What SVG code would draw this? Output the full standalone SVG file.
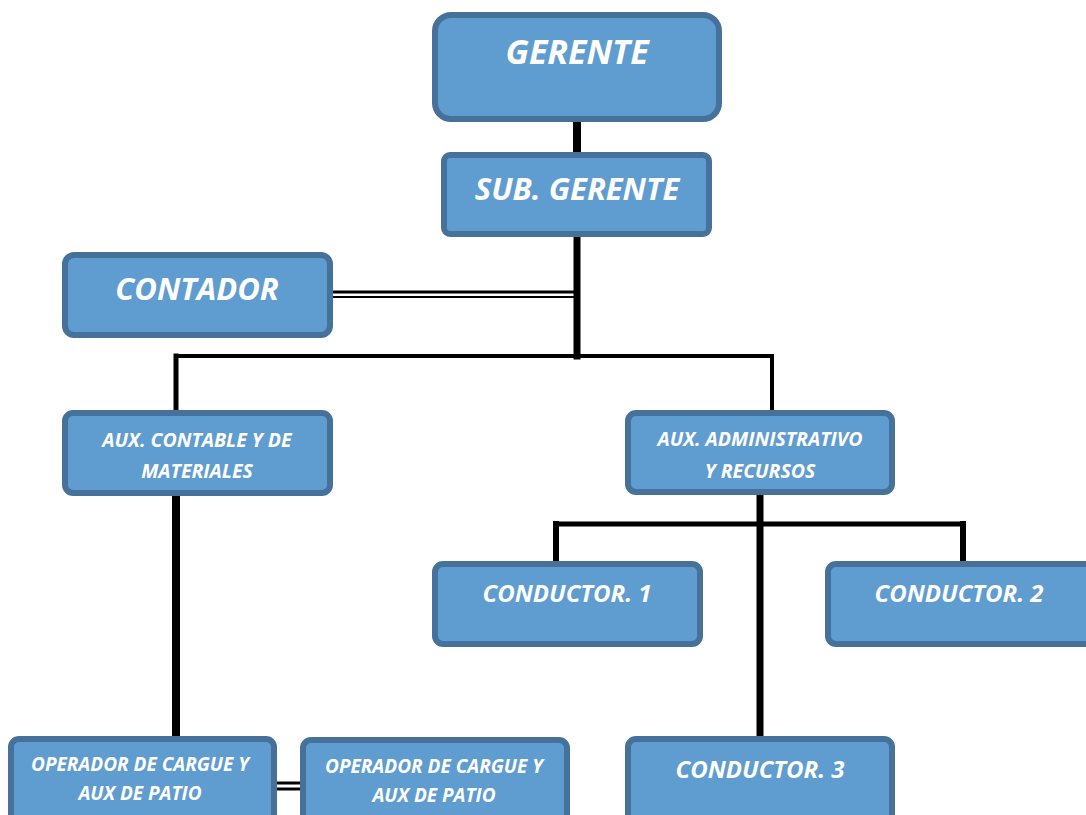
<svg xmlns="http://www.w3.org/2000/svg" width="1086" height="815" viewBox="0 0 1086 815">
<style>
.box{fill:#5f9cd0;stroke:#46719b;stroke-width:6}
.t{fill:#ffffff;font-family:"Open Sans","Noto Sans",sans-serif;font-weight:bold;font-style:italic;text-anchor:middle}
.big{font-size:34px}
.mid{font-size:31px}
.sm{font-size:19.5px}
.cd{font-size:24px}
.op{font-size:19px}
.ln{stroke:#000;fill:none;stroke-linecap:square}
</style>
<rect width="1086" height="815" fill="#ffffff"/>
<g id="connectors">
<line class="ln" x1="577" y1="122" x2="577" y2="152" stroke-width="8"/>
<line class="ln" x1="577" y1="237" x2="577" y2="356" stroke-width="7"/>
<line class="ln" x1="332" y1="292" x2="577" y2="292" stroke-width="3"/>
<line class="ln" x1="332" y1="297" x2="577" y2="297" stroke-width="2"/>
<line class="ln" x1="176" y1="356" x2="772" y2="356" stroke-width="4"/>
<line class="ln" x1="176" y1="356" x2="176" y2="410" stroke-width="5"/>
<line class="ln" x1="772" y1="356" x2="772" y2="410" stroke-width="4"/>
<line class="ln" x1="176" y1="496" x2="176" y2="736" stroke-width="8"/>
<line class="ln" x1="760" y1="495" x2="760" y2="736" stroke-width="7"/>
<line class="ln" x1="556" y1="524" x2="963" y2="524" stroke-width="5"/>
<line class="ln" x1="556" y1="524" x2="556" y2="561" stroke-width="6"/>
<line class="ln" x1="963" y1="524" x2="963" y2="561" stroke-width="6"/>
<line class="ln" x1="277" y1="783" x2="300" y2="783" stroke-width="3"/>
<line class="ln" x1="277" y1="789" x2="300" y2="789" stroke-width="3"/>
</g>
<g id="gerente"><rect class="box" x="435" y="15" width="284" height="104" rx="16"/><text class="t big" x="577" y="64">GERENTE</text></g>
<g id="subgerente"><rect class="box" x="444" y="155" width="265" height="79" rx="6"/><text class="t mid" x="577" y="200">SUB. GERENTE</text></g>
<g id="contador"><rect class="box" x="65" y="255" width="265" height="80" rx="9"/><text class="t mid" x="197" y="300">CONTADOR</text></g>
<g id="auxcontable"><rect class="box" x="65" y="413" width="265" height="80" rx="8"/><text class="t sm" x="197" y="447">AUX. CONTABLE Y DE</text><text class="t sm" x="197" y="478">MATERIALES</text></g>
<g id="auxadmin"><rect class="box" x="628" y="413" width="264" height="79" rx="8"/><text class="t sm" x="760" y="446">AUX. ADMINISTRATIVO</text><text class="t sm" x="760" y="478">Y RECURSOS</text></g>
<g id="conductor1"><rect class="box" x="435" y="564" width="265" height="80" rx="8"/><text class="t cd" x="567" y="602">CONDUCTOR. 1</text></g>
<g id="conductor2"><rect class="box" x="828" y="564" width="265" height="80" rx="8"/><text class="t cd" x="959" y="602">CONDUCTOR. 2</text></g>
<g id="conductor3"><rect class="box" x="628" y="739" width="264" height="90" rx="8"/><text class="t cd" x="760" y="778">CONDUCTOR. 3</text></g>
<g id="operador1"><rect class="box" x="11" y="739" width="263" height="90" rx="8"/><text class="t op" x="140" y="771">OPERADOR DE CARGUE Y</text><text class="t op" x="140" y="800">AUX DE PATIO</text></g>
<g id="operador2"><rect class="box" x="303" y="740" width="264" height="90" rx="8"/><text class="t op" x="434" y="773">OPERADOR DE CARGUE Y</text><text class="t op" x="434" y="802">AUX DE PATIO</text></g>
</svg>
